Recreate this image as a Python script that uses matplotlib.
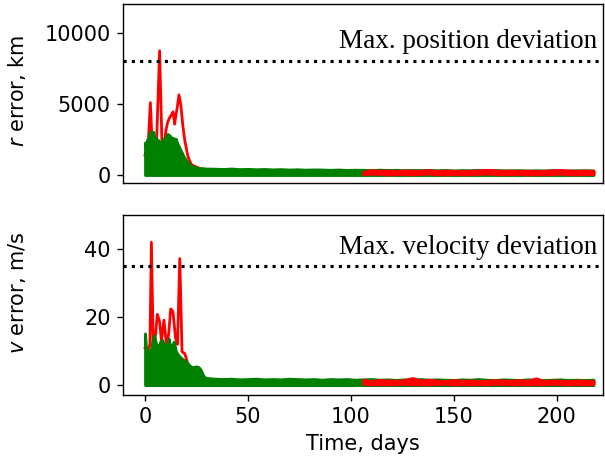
import matplotlib
matplotlib.use("Agg")
import matplotlib.pyplot as plt
import numpy as np

# ---------------------------------------------------------------------------
# Position error (km) and velocity error (m/s) of the two filters vs. time
# ---------------------------------------------------------------------------
R_LIMIT = 8000.0   # km
V_LIMIT = 35.0     # m/s

# Early transient, green filter: upper envelope of the error spread (days 0..30)
green_t_early = [0, 0.5, 1, 1.5, 2, 2.5, 3, 3.5, 4, 4.5, 5, 5.5, 6, 6.5, 7, 7.5,
                 8, 8.5, 9, 9.5, 10, 10.5, 11, 11.5, 12, 12.5, 13, 13.5, 14, 14.5,
                 15, 15.5, 16, 17, 18, 19, 20, 21, 22, 23, 24, 25, 26, 27, 28, 29, 30]
green_r_early = [2300, 1900, 2500, 2200, 2800, 3000, 3100, 2900, 3050, 2700, 2400,
                 2600, 2200, 2450, 2100, 2350, 2200, 2500, 2300, 2650, 2400, 2800,
                 2900, 2600, 2800, 2500, 2650, 2400, 2600, 2500, 2550, 2300, 2150,
                 1850, 1550, 1250, 1050, 850, 720, 630, 560, 520, 500, 490, 480, 470, 460]
green_v_early = [15.2, 11.0, 10.5, 9.0, 10.0, 9.5, 11.0, 12.5, 14.0, 14.7, 13.0,
                 12.0, 11.8, 10.5, 12.0, 13.0, 12.5, 13.2, 11.5, 12.0, 11.0, 10.8,
                 12.5, 13.7, 12.0, 11.0, 11.5, 12.2, 12.8, 11.5, 10.0, 9.5, 9.0,
                 8.3, 7.8, 7.3, 6.9, 6.2, 5.6, 5.3, 5.4, 5.5, 5.3, 4.6, 3.2, 2.3, 2.1]

# Steady state, green filter (days 34..218, every 4 days)
green_t_late = np.arange(34, 219, 4)
green_r_late = [450, 430, 460, 420, 440, 410, 430, 400, 420, 390, 410, 380, 400,
                390, 370, 390, 360, 380, 370, 350, 380, 360, 370, 340, 360, 350,
                370, 340, 360, 330, 350, 340, 360, 330, 350, 340, 330, 350, 320,
                340, 330, 350, 330, 320, 340, 330, 320]
green_v_late = [1.9, 1.8, 1.9, 1.7, 1.8, 1.9, 1.7, 1.8, 1.7, 1.9, 1.8, 1.7, 1.8,
                1.6, 1.8, 1.7, 1.8, 1.6, 1.7, 1.8, 1.6, 1.7, 1.5, 1.7, 1.6, 1.8,
                1.6, 1.7, 1.6, 1.5, 1.7, 1.6, 1.8, 1.6, 1.5, 1.7, 1.6, 1.5, 1.7,
                1.6, 1.5, 1.6, 1.7, 1.5, 1.6, 1.5, 1.6]

# Red filter, transient phase
red_t_r = [0, 0.8, 1.6, 2.6, 3.6, 4.4, 5.6, 7.1, 8.3, 9.3, 10.2, 11.0, 11.8, 12.7,
           13.6, 14.4, 15.1, 15.7, 16.5, 17.4, 18.3, 19.3, 20.2, 20.9, 21.7, 22.4,
           23.5, 24.8, 26.5, 29, 35, 45, 60, 75, 90, 106]
red_r = [1400, 1900, 2300, 5100, 1760, 2600, 2200, 8750, 1760, 2000, 3170, 3700,
         4000, 4200, 4450, 3580, 4300, 4780, 5650, 4950, 3600, 2460, 1800, 1290,
         1000, 770, 650, 580, 480, 380, 300, 260, 240, 230, 220, 210]
red_t_v = [0, 1.3, 2.4, 3.1, 4.0, 5.1, 6.0, 7.1, 8.0, 9.2, 10.4, 11.5, 12.5, 13.6,
           14.8, 15.8, 16.9, 18.0, 19.3, 21.0, 22.6, 25.0, 28, 35, 50, 70, 90, 106]
red_v = [10.9, 9.8, 12.0, 42.0, 11.8, 14.7, 20.8, 18.6, 13.0, 19.1, 12.0, 15.0,
         22.4, 21.6, 14.0, 12.0, 37.2, 9.8, 9.3, 5.9, 3.5, 2.5, 1.8, 1.4, 1.2,
         1.1, 1.0, 0.9]

# Red filter, steady state spread (days 106..218, every 4 days)
red_t_late = np.arange(106, 219, 4)
red_r_hi = [240, 350, 310, 320, 280, 340, 300, 310, 350, 290, 320, 300, 280, 310,
            330, 370, 340, 300, 320, 290, 310, 280, 300, 330, 360, 320, 300, 330,
            310]
red_r_lo = [50, 90, 70, 40, 60, 80, 50, 70, 90, 60, 40, 70, 50, 60, 80, 100, 70,
            50, 60, 80, 40, 60, 50, 70, 90, 60, 50, 70, 60]
red_v_hi = [1.6, 1.2, 1.5, 1.4, 1.3, 1.5, 2.1, 1.4, 1.6, 1.3, 1.2, 1.5, 1.3, 1.4,
            1.2, 1.3, 1.5, 1.4, 1.3, 1.5, 1.3, 2.0, 1.2, 1.4, 1.3, 1.2, 1.4, 1.3,
            1.2]
red_v_lo = [0.4, 0.2, 0.3, 0.2, 0.3, 0.4, 0.2, 0.3, 0.2, 0.3, 0.4, 0.2, 0.3, 0.2,
            0.3, 0.2, 0.4, 0.3, 0.2, 0.3, 0.2, 0.3, 0.2, 0.4, 0.3, 0.2, 0.3, 0.2,
            0.3]

GREEN = "green"
RED = "red"
LW = 1.6

plt.rcParams["font.size"] = 12


def draw_panel(ax, red_t, red_y, green_hi_early, green_hi_late, red_hi, red_lo):
    green_t = np.concatenate([green_t_early, green_t_late])
    green_hi = np.concatenate([green_hi_early, green_hi_late])
    # transient red trace sits under the green spread
    ax.plot(red_t, red_y, color=RED, lw=LW, zorder=2)
    ax.fill_between(green_t, 0, green_hi, color=GREEN, lw=LW, edgecolor=GREEN,
                    zorder=3)
    # steady-state red spread drawn on top
    ax.fill_between(red_t_late, red_lo, red_hi, color=RED, lw=LW, edgecolor=RED,
                    zorder=4)


fig = plt.figure(figsize=(4.84, 3.688), dpi=125)
ax_r = fig.add_axes([0.2033, 0.603, 0.7934, 0.3883])
ax_v = fig.add_axes([0.2033, 0.1432, 0.7934, 0.3904], sharex=ax_r)

draw_panel(ax_r, red_t_r, red_r, green_r_early, green_r_late, red_r_hi, red_r_lo)
draw_panel(ax_v, red_t_v, red_v, green_v_early, green_v_late, red_v_hi, red_v_lo)

ax_r.axhline(R_LIMIT, color="black", ls=":", lw=1.8, zorder=5)
ax_v.axhline(V_LIMIT, color="black", ls=":", lw=1.8, zorder=5)

serif = ["Liberation Serif", "DejaVu Serif"]
ax_r.text(0.9875, 0.72, "Max. position deviation", transform=ax_r.transAxes,
          ha="right", va="bottom", fontsize=15.6, family=serif)
ax_v.text(0.9875, 0.75, "Max. velocity deviation", transform=ax_v.transAxes,
          ha="right", va="bottom", fontsize=15.6, family=serif)

ax_r.set_xlim(-10.7, 222.6)
ax_r.set_ylim(-560, 12040)
ax_v.set_ylim(-2.9, 50)
ax_r.set_yticks([0, 5000, 10000])
ax_v.set_yticks([0, 20, 40])
ax_v.set_xticks([0, 50, 100, 150, 200])
ax_r.tick_params(axis="x", bottom=False, labelbottom=False)

ax_r.set_ylabel("$r$ error, km")
ax_v.set_ylabel("$v$ error, m/s")
ax_v.set_xlabel("Time, days")
ax_r.yaxis.set_label_coords(-0.198, 0.514)
ax_v.yaxis.set_label_coords(-0.198, 0.57)

fig.savefig("out.png", dpi=125)
